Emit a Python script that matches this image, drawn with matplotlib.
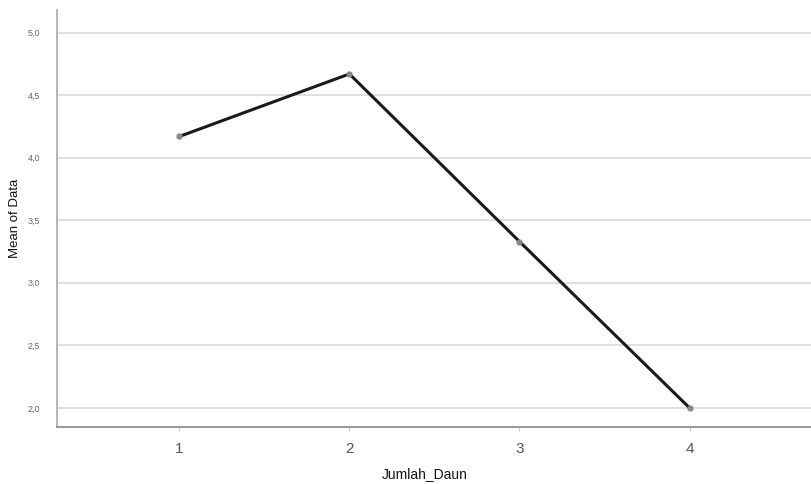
import matplotlib.pyplot as plt

plt.rcParams['font.family'] = ['Liberation Sans', 'DejaVu Sans']

jumlah_daun = [1, 2, 3, 4]
mean_data = [4.17, 4.67, 3.33, 2.00]
y_ticks = [2.0, 2.5, 3.0, 3.5, 4.0, 4.5, 5.0]
y_labels = ['2,0', '2,5', '3,0', '3,5', '4,0', '4,5', '5,0']

fig = plt.figure(figsize=(8.12, 4.84), dpi=100)
ax = fig.add_axes([0.070, 0.118, 0.93, 0.861])

ax.plot(jumlah_daun, mean_data, color='#1a1a1a', lw=2.2, zorder=3)
ax.plot(jumlah_daun, mean_data, 'o', color='#888888', ms=3.5, zorder=4)

ax.set_xlim(0.28, 4.72)
ax.set_ylim(1.848, 5.18)
ax.set_xticks(jumlah_daun)
ax.set_yticks(y_ticks)
ax.set_yticklabels(y_labels)

ax.grid(axis='y', color='#dcdcdc', lw=1.3)
ax.set_axisbelow(True)
for s in ['top', 'right']:
    ax.spines[s].set_visible(False)
ax.spines['left'].set_color('#b0b0b0')
ax.spines['left'].set_linewidth(1.3)
ax.spines['bottom'].set_color('#888888')
ax.spines['bottom'].set_linewidth(1.2)

ax.tick_params(axis='y', length=0, labelsize=6.5, labelcolor='#666666', pad=12)
ax.tick_params(axis='x', length=3, color='#cccccc', labelsize=11,
               labelcolor='#555555', pad=8)

ax.set_xlabel('Jumlah_Daun', fontsize=10, color='#111111', va='center')
ax.xaxis.set_label_coords(0.487, -0.112)
ax.set_ylabel('Mean of Data', fontsize=9.5, color='#111111', va='center')
ax.yaxis.set_label_coords(-0.056, 0.5)

fig.savefig('out.png', dpi=100)
